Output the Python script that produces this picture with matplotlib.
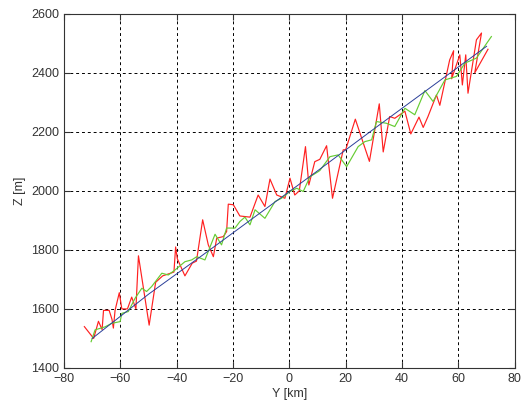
import numpy as np
import matplotlib
matplotlib.use("Agg")
import matplotlib.pyplot as plt

# red trace (noisy profile)
red_y = [-72.8, -69.5, -67.8, -66.5, -66.0, -64.0, -63.0, -62.5, -61.9, -60.4,
         -59.5, -57.5, -56.0, -54.5, -53.6, -49.8, -47.5, -45.0, -42.5, -41.0,
         -40.4, -39.8, -37.1, -34.5, -33.0, -30.8, -28.8, -27.0, -25.8, -23.5,
         -22.3, -21.7, -19.9, -17.6, -14.0, -11.1, -8.7, -6.9, -4.5, -1.6,
         0.2, 1.9, 3.5, 5.7, 6.9, 9.0, 10.8, 13.2, 15.3, 19.1,
         20.0, 23.4, 28.4, 31.9, 33.3, 35.6, 37.4, 41.0, 43.1, 46.0,
         47.5, 49.2, 52.2, 53.4, 56.9, 58.3, 57.6, 60.5, 61.4, 62.6,
         63.4, 66.4, 68.2, 65.8, 70.5]
red_z = [1540, 1500, 1558, 1530, 1595, 1595, 1565, 1535, 1595, 1655,
         1600, 1600, 1640, 1600, 1780, 1545, 1690, 1712, 1720, 1725,
         1810, 1770, 1712, 1755, 1762, 1902, 1817, 1777, 1840, 1845,
         1862, 1955, 1953, 1915, 1911, 1986, 1947, 2040, 1986, 1975,
         2043, 1986, 2000, 2150, 2020, 2099, 2107, 2153, 1975, 2139,
         2140, 2243, 2100, 2295, 2132, 2252, 2246, 2270, 2193, 2250,
         2215, 2252, 2325, 2290, 2444, 2475, 2380, 2461, 2359, 2461,
         2331, 2512, 2535, 2400, 2480]

# green trace (moderate noise)
green_y = [-70.4, -69.0, -65.5, -63.1, -60.1, -59.5, -57.2, -54.8, -52.4, -50.7,
           -48.9, -45.3, -43.0, -40.6, -37.1, -34.7, -32.9, -30.0, -26.4, -24.1,
           -22.3, -19.3, -17.6, -15.8, -14.0, -12.2, -8.7, -5.1, -2.8, 0.2,
           2.6, 4.9, 7.3, 10.2, 10.8, 14.4, 17.3, 20.3, 24.4, 26.8,
           29.2, 30.9, 34.5, 37.4, 41.0, 44.5, 48.1, 51.0, 55.2, 59.3,
           62.3, 66.4, 71.7]
green_z = [1489, 1529, 1539, 1551, 1557, 1585, 1591, 1636, 1670, 1659,
           1676, 1721, 1715, 1732, 1760, 1766, 1777, 1766, 1853, 1817,
           1874, 1874, 1896, 1911, 1885, 1936, 1907, 1964, 1975, 1998,
           2009, 1998, 2048, 2065, 2069, 2116, 2122, 2082, 2150, 2167,
           2173, 2235, 2229, 2218, 2280, 2258, 2340, 2303, 2376, 2388,
           2433, 2450, 2523]

# blue trace (smooth trend)
blue_y = [-70, -50, -30, -10, 0, 10, 30, 50, 70]
blue_z = [1500, 1650, 1788, 1928, 1998, 2068, 2210, 2350, 2490]

plt.rcParams['font.family'] = ['Liberation Sans', 'DejaVu Sans']

fig = plt.figure(figsize=(5.21, 4.07), dpi=100)
ax = fig.add_axes([0.123, 0.096, 0.865, 0.870])

ax.plot(red_y, red_z, color='#ff2020', lw=0.85)
ax.plot(green_y, green_z, color='#66cc33', lw=0.85)
ax.plot(blue_y, blue_z, color='#2b3f99', lw=0.7)

ax.set_xlim(-80, 80)
ax.set_ylim(1400, 2600)
ax.set_xticks(np.arange(-80, 81, 20))
ax.set_yticks(np.arange(1400, 2601, 200))
ax.grid(True, color='black', linestyle=(0, (3, 3)), lw=0.7)
ax.tick_params(direction='in', top=True, right=True, labelsize=9,
               colors='#333333', length=4)
for s in ax.spines.values():
    s.set_color('#333333')
    s.set_linewidth(0.8)

ax.set_xlabel('Y [km]', fontsize=9, color='#333333', labelpad=2)
ax.set_ylabel('Z [m]', fontsize=9, color='#333333', labelpad=4)

fig.savefig('out.png', dpi=100)
